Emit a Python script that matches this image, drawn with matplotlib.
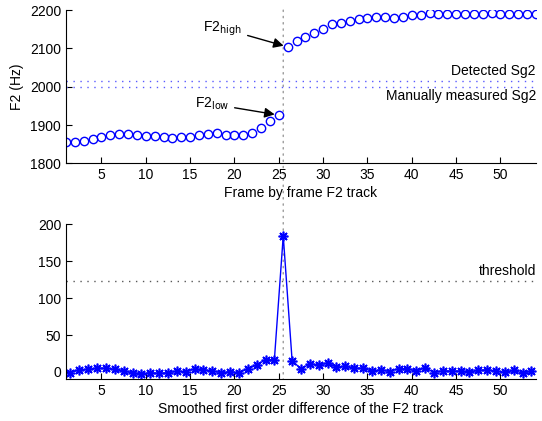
import matplotlib
matplotlib.use("Agg")
import matplotlib.pyplot as plt
from matplotlib.patches import ConnectionPatch

plt.rcParams["font.family"] = ["Liberation Sans", "DejaVu Sans"]
plt.rcParams["font.size"] = 10

# frame by frame F2 track (Hz), frames 1..54
frames = list(range(1, 55))
f2_track = [1855, 1855, 1859, 1863, 1869, 1874, 1877, 1877, 1874, 1871,
            1871, 1868, 1867, 1868, 1868, 1874, 1877, 1878, 1874, 1875,
            1874, 1880, 1891, 1911, 1926, 2104, 2120, 2131, 2139, 2150,
            2163, 2167, 2172, 2176, 2180, 2181, 2181, 2180, 2182, 2187,
            2187, 2192, 2190, 2190, 2190, 2189, 2190, 2191, 2193, 2191,
            2191, 2191, 2190, 2190]

# smoothed first order difference, at half frames 1.5..53.5
diff_x = [f + 0.5 for f in range(1, 54)]
diff_y = [-1, 3, 3.5, 5, 5, 3.5, 1, -1, -2.5, -1,
          -2, -1, 1, 0.5, 4, 3, 1.5, -1, 0.5, -1,
          4, 9.5, 16.5, 16.5, 184.5, 15.5, 4, 11, 9.5, 12,
          6.5, 7.5, 5, 5, 1.3, 3, 0.5, 4.5, 4.5, 1,
          6, -1, 1.7, 1, 1.3, 0, 2, 3, 1, -0.5,
          2, -1.5, 1.3]

detected_sg2 = 2016
manual_sg2 = 2000
threshold = 123
boundary = 25.5

fig = plt.figure(figsize=(5.42, 4.21), dpi=100)
ax1 = fig.add_axes([0.1218, 0.612, 0.867, 0.364])
ax2 = fig.add_axes([0.1218, 0.099, 0.867, 0.368])

for ax in (ax1, ax2):
    ax.set_facecolor("none")
    ax.spines["top"].set_visible(False)
    ax.spines["right"].set_visible(False)
    ax.tick_params(direction="in", length=4, labelsize=10)
    ax.set_xlim(1, 54)
    ax.set_xticks(range(5, 55, 5))

# top panel
ax1.axhline(detected_sg2, color="#5a5aff", ls=(0, (1, 4)), lw=1)
ax1.axhline(manual_sg2, color="#5a5aff", ls=(0, (1, 4)), lw=1)
ax1.plot(frames, f2_track, "o", color="blue", mfc="none", ms=6, mew=1)
ax1.set_ylim(1800, 2200)
ax1.set_yticks(range(1800, 2201, 100))
ax1.set_ylabel("F2 (Hz)")
ax1.set_xlabel("Frame by frame F2 track", labelpad=3)
ax1.text(54, detected_sg2 + 7, "Detected Sg2", ha="right", va="bottom")
ax1.text(54, manual_sg2 - 7, "Manually measured Sg2", ha="right", va="top")
ax1.annotate("F2$_{\\mathrm{high}}$", xy=(26, f2_track[25]), xytext=(16.5, 2145),
             arrowprops=dict(arrowstyle="-|>", color="black", lw=1,
                             mutation_scale=15, shrinkB=3))
ax1.annotate("F2$_{\\mathrm{low}}$", xy=(25, f2_track[24]), xytext=(15.5, 1945),
             arrowprops=dict(arrowstyle="-|>", color="black", lw=1,
                             mutation_scale=15, shrinkB=3))

# bottom panel
ax2.axhline(threshold, color="0.35", ls=(0, (1, 4)), lw=1)
ax2.plot(diff_x, diff_y, "-", color="blue", lw=1, marker=(8, 2, 0), ms=7, mew=1.2)
ax2.set_ylim(-10, 200)
ax2.set_yticks(range(0, 201, 50))
ax2.set_xlabel("Smoothed first order difference of the F2 track", labelpad=3)
ax2.text(54, threshold + 5, "threshold", ha="right", va="bottom")

# vertical boundary spanning both panels
con = ConnectionPatch(xyA=(boundary, 2200), coordsA=ax1.transData,
                      xyB=(boundary, -10), coordsB=ax2.transData,
                      color="0.6", ls=(0, (1, 3.5)), lw=1, zorder=0)
fig.add_artist(con)

fig.savefig("out.png", dpi=100)
